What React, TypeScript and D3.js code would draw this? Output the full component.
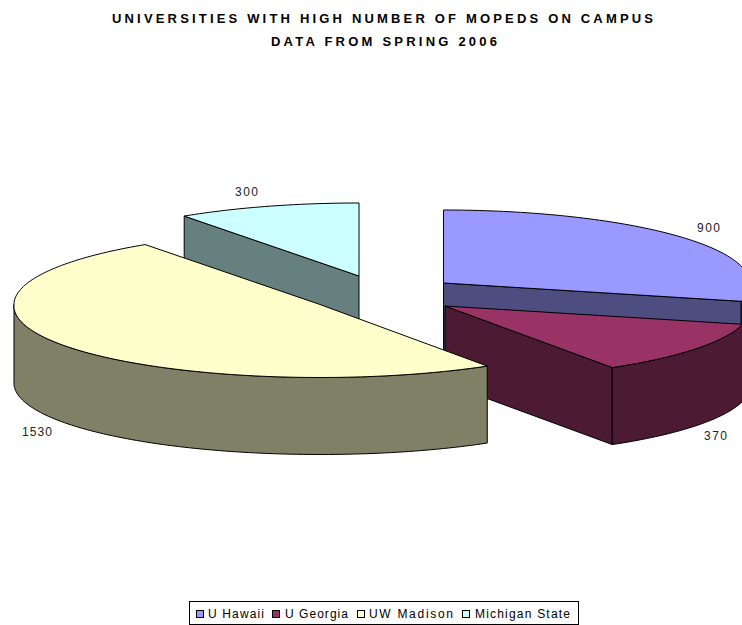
import React from "react";
import * as d3 from "d3";

const categories = ["U Hawaii", "U Georgia", "UW Madison", "Michigan State"];
const values = [900, 370, 1530, 300];
const topColors = ["#9999FF", "#993366", "#FFFFCC", "#CCFFFF"];
const wallColors = ["#4D4D80", "#4D1A33", "#808066", "#668080"];
const titleLines = ["UNIVERSITIES WITH HIGH NUMBER OF MOPEDS ON CAMPUS", "DATA FROM SPRING 2006"];

// layout only: exploded slice centres, label anchors and legend placement
const centers: [number, number][] = [[443.5, 283], [445, 306], [320, 304.5], [359, 276]];
const labelPos: [number, number, number][] = [[697, 232, 23], [704, 440, 23], [22, 436, 30], [235, 196, 23]];
const legendSwatchX = [196, 272, 357, 462];
const legendTextX: [number, number][] = [[208, 56], [285, 63], [369, 84], [475, 95]];
const RX = 306, RY = 73, DEPTH = 77, NEAR_WIDEN = 0.02;

const arcs = d3.pie<number>().sort(null).startAngle(0).endAngle(2 * Math.PI)(values);

const px = (i: number, a: number) =>
  centers[i][0] + RX * Math.sin(a) * (1 - NEAR_WIDEN * Math.min(Math.cos(a), 0));
const py = (i: number, a: number, dz = 0) => centers[i][1] - RY * Math.cos(a) + dz;
const line = d3.line<[number, number]>();

function sample(a0: number, a1: number) {
  const n = Math.max(2, Math.ceil(Math.abs(a1 - a0) / 0.02));
  return d3.range(n + 1).map((k) => a0 + ((a1 - a0) * k) / n);
}

function topPath(i: number) {
  const { startAngle: s, endAngle: e } = arcs[i];
  const pts: [number, number][] = [centers[i], ...sample(s, e).map((a) => [px(i, a), py(i, a)] as [number, number])];
  return line(pts) + "Z";
}

function outerWall(i: number) {
  const s = Math.max(arcs[i].startAngle, Math.PI / 2);
  const e = Math.min(arcs[i].endAngle, (3 * Math.PI) / 2);
  if (e <= s) return null;
  const as = sample(s, e);
  const pts: [number, number][] = [
    ...as.map((a) => [px(i, a), py(i, a)] as [number, number]),
    ...as.slice().reverse().map((a) => [px(i, a), py(i, a, DEPTH)] as [number, number]),
  ];
  return line(pts) + "Z";
}

function radialWall(i: number, a: number) {
  const [cx, cy] = centers[i];
  const pts: [number, number][] = [
    [cx, cy],
    [px(i, a), py(i, a)],
    [px(i, a), py(i, a, DEPTH)],
    [cx, cy + DEPTH],
  ];
  return line(pts) + "Z";
}

const sliceStroke = { stroke: "#000", strokeWidth: 1, strokeLinejoin: "round" as const };

function Slice({ i, radial }: { i: number; radial: number | null }) {
  const outer = outerWall(i);
  return (
    <g {...sliceStroke}>
      {radial !== null && <path d={radialWall(i, radial)} fill={wallColors[i]} />}
      {outer && <path d={outer} fill={wallColors[i]} />}
      <path d={topPath(i)} fill={topColors[i]} />
    </g>
  );
}

export default function App() {
  const font = "'Liberation Sans', Arial, sans-serif";
  return (
    <svg
      width={742}
      height={625}
      viewBox="0 0 742 625"
      style={{ position: "absolute", left: 0, top: 0, display: "block", background: "#fff" }}
      fontFamily={font}
    >
      <text x={112} y={23} textLength={541} lengthAdjust="spacing" fontSize={13} fontWeight="bold" fill="#000">{titleLines[0]}</text>
      <text x={271} y={46} textLength={226} lengthAdjust="spacing" fontSize={13} fontWeight="bold" fill="#000">{titleLines[1]}</text>

      <Slice i={3} radial={arcs[3].startAngle} />
      <Slice i={0} radial={arcs[0].endAngle} />
      <Slice i={1} radial={arcs[1].endAngle} />
      <Slice i={2} radial={null} />

      {values.map((v, i) => (
        <text key={i} x={labelPos[i][0]} y={labelPos[i][1]} textLength={labelPos[i][2]} lengthAdjust="spacing" fontSize={12} fill="#222">{v}</text>
      ))}

      <rect x={189.5} y={601.5} width={389} height={23} fill="#fff" stroke="#000" />
      {categories.map((c, i) => (
        <g key={c}>
          <rect x={legendSwatchX[i] + 0.5} y={610.5} width={7} height={7} fill={topColors[i]} stroke="#000" />
          <text x={legendTextX[i][0]} y={618} textLength={legendTextX[i][1]} lengthAdjust="spacing" fontSize={12} fill="#000">
            {c}
          </text>
        </g>
      ))}
    </svg>
  );
}
